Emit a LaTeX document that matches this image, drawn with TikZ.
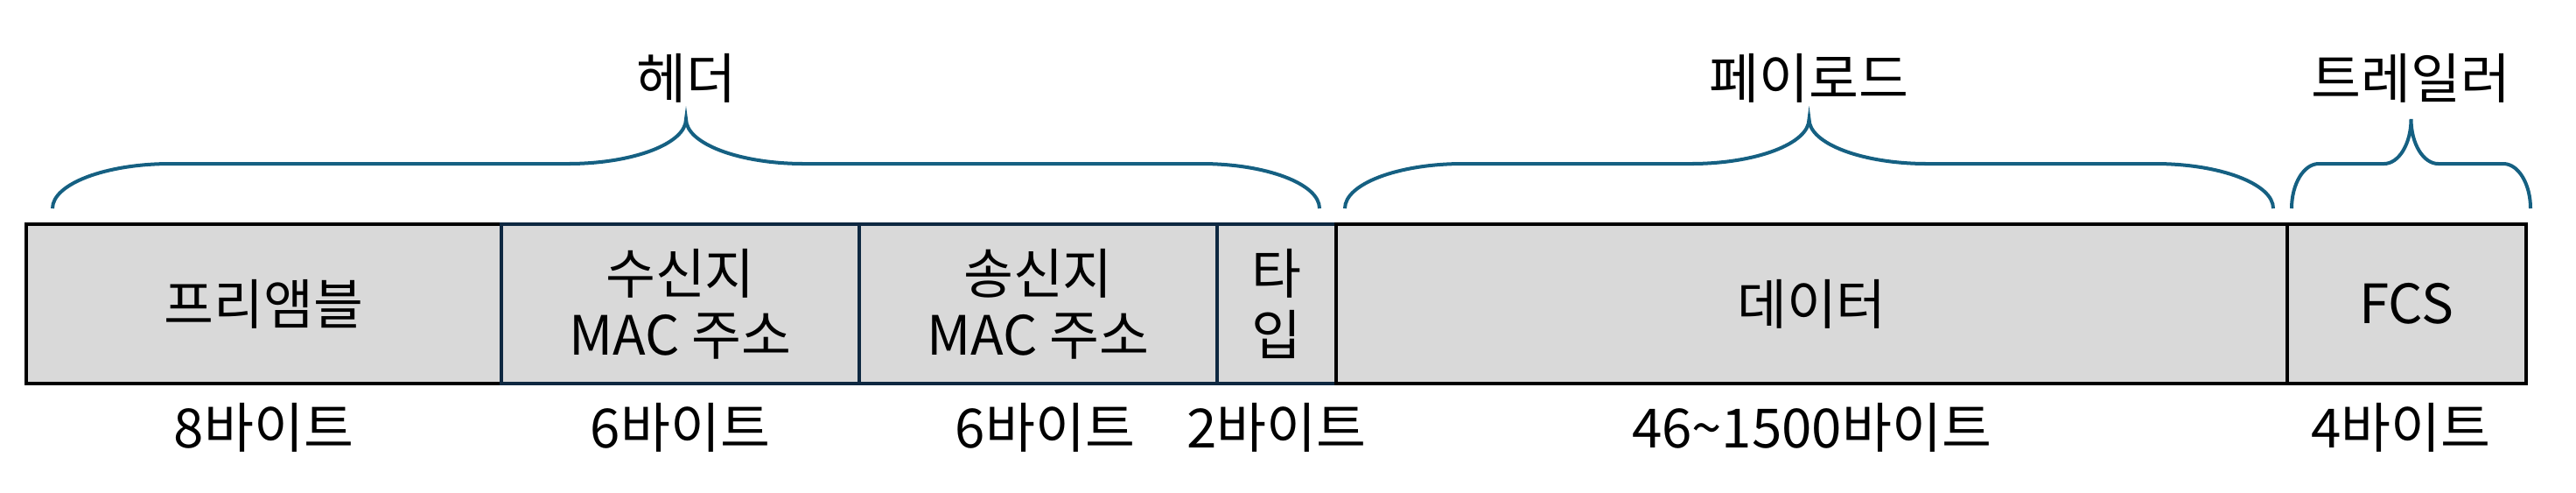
\documentclass[tikz,border=0pt]{standalone}
\usepackage{fontspec}
\setmainfont{Noto Sans CJK KR}
\usepackage{tikz}
\usetikzlibrary{positioning,calc}
\definecolor{fieldgray}{RGB}{217,217,217}
\definecolor{navyline}{RGB}{14,40,65}
\definecolor{bracecol}{RGB}{21,96,130}
\newcommand{\fieldfont}{\fontsize{17.6pt}{19.9pt}\selectfont}
\tikzset{
  field/.style={draw=black,fill=fieldgray,line width=1.28pt,outer sep=0pt,
    inner sep=0pt,minimum height=1.82cm,align=center,font=\fieldfont},
  addrfield/.style={field,draw=navyline},
  bytelabel/.style={font=\fieldfont,inner sep=0pt},
  partlabel/.style={font=\fieldfont,inner sep=0pt},
  framebrace/.style={bracecol,line width=1.14pt}
}
% left x, right x, curve width, name of the tip
\newcommand{\framebrace}[4]{%
  \draw[framebrace] (#1,-2.38)
    .. controls +(0,0.28) and +(-0.55*#3,0) .. ({#1+#3},-1.87)
    -- ({(#1+#2)/2-#3},-1.87)
    .. controls +(0.55*#3,0) and +(0,-0.28) .. ({(#1+#2)/2},-1.36) coordinate (#4)
    .. controls +(0,-0.28) and +(-0.55*#3,0) .. ({(#1+#2)/2+#3},-1.87)
    -- ({#2-#3},-1.87)
    .. controls +(0.55*#3,0) and +(0,0.28) .. (#2,-2.38);}

\begin{document}
\begin{tikzpicture}
  \useasboundingbox (0,0) rectangle (29.44,-5.62);
  \node[field,minimum width=5.43cm,anchor=west] (pre) at (0.30,-3.47) {프리앰블};
  \node[addrfield,minimum width=4.09cm,right=0pt of pre] (dst) {수신지\\MAC 주소};
  \node[addrfield,minimum width=4.09cm,right=0pt of dst] (src) {송신지\\MAC 주소};
  \node[addrfield,minimum width=1.36cm,right=0pt of src] (type) {타\\입};
  \node[field,minimum width=10.87cm,right=0pt of type] (data) {데이터};
  \node[field,minimum width=2.73cm,right=0pt of data] (fcs) {FCS};

  \node[bytelabel,below=0.22cm of pre] (prebytes) {8바이트};
  \node[bytelabel,below=0.22cm of dst] (dstbytes) {6바이트};
  \node[bytelabel,below=0.22cm of src,xshift=0.08cm] (srcbytes) {6바이트};
  \node[bytelabel,below=0.22cm of type] (typebytes) {2바이트};
  \node[bytelabel,below=0.22cm of data] (databytes) {46\textasciitilde1500바이트};
  \node[bytelabel,below=0.22cm of fcs,xshift=-0.07cm] (fcsbytes) {4바이트};

  \framebrace{0.60}{15.08}{1.35}{htip}
  \framebrace{15.37}{25.98}{1.35}{ptip}
  \framebrace{26.19}{28.92}{0.31}{ttip}
  \node[partlabel,above=0.18cm of htip] (header) {헤더};
  \node[partlabel,above=0.18cm of ptip] (payload) {페이로드};
  \node[partlabel,above=0.18cm of ttip] (trailer) {트레일러};
\end{tikzpicture}
\end{document}
